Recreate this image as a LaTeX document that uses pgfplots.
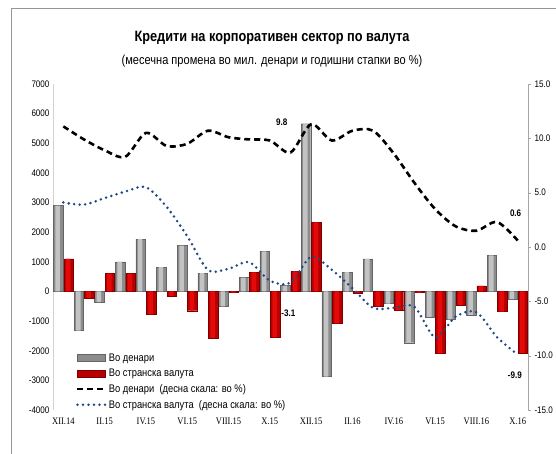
\documentclass[border=0pt]{standalone}
\usepackage{fontspec}
\setmainfont{Liberation Sans}[FakeStretch=0.85]
\newfontfamily\xfont{Liberation Serif}[FakeStretch=0.85]
\usepackage{pgfplots}
\pgfplotsset{compat=1.18}
\definecolor{lineblue}{RGB}{31,73,130}
\definecolor{gdark}{RGB}{140,140,140}
\definecolor{glight}{RGB}{195,195,195}
\definecolor{gedge}{RGB}{100,100,100}
\definecolor{rdark}{RGB}{185,0,0}
\definecolor{rlight}{RGB}{228,10,10}
\definecolor{redge}{RGB}{125,0,0}
\definecolor{framegray}{RGB}{150,150,150}
\pgfplotsset{
  barlegend/.style={legend image code/.code={\draw[##1] (0pt,-3.5pt) rectangle (28pt,3.5pt);}},
  linelegend/.style={legend image code/.code={\draw[##1] (0pt,0pt) -- (28pt,0pt);}},
}
\begin{document}
\begin{tikzpicture}[x=1pt,y=1pt]
\useasboundingbox (0pt,0pt) rectangle (556pt,453pt);
\draw[framegray, line width=0.9pt] (11pt,-2pt) -- (11pt,445pt) -- (560pt,445pt);
\node[font=\bfseries\fontsize{15}{17}\selectfont] at (272pt,415pt) {Кредити на корпоративен сектор по валута};
\node[font=\fontsize{13}{15}\selectfont] at (272pt,392pt) {(месечна промена во мил. денари и годишни стапки во \%)};

\begin{axis}[at={(53pt,43pt)}, anchor=south west, width=475pt, height=326pt, scale only axis,
  xmin=-0.5, xmax=22.5, ymin=-4000, ymax=7000,
  ytick={-4000,-3000,...,7000},
  axis y line*=left, axis x line*=bottom,
  x axis line style={draw=none}, y axis line style={draw=gray!35, line width=0.8pt},
  major tick length=0pt,
  xtick={0,2,...,22},
  xticklabels={XII.14,II.15,IV.15,VI.15,VIII.15,X.15,XII.15,II.16,IV.16,VI.15,VIII.16,X.16},
  xticklabel style={font=\xfont\fontsize{10}{12}\selectfont, yshift=-4pt},
  yticklabel style={font=\fontsize{9.5}{11}\selectfont},
  /pgf/number format/assume math mode=true, /pgf/number format/1000 sep={},
  clip=false,
  legend cell align=left,
  legend style={at={(0.046,0.183)}, anchor=north west, draw=none, fill=none,
    font=\fontsize{11}{13}\selectfont, row sep=2.3pt, inner sep=1pt},
]
\addplot[ybar, bar width=9.5pt, bar shift=-5.2pt, draw=gedge, fill=gdark, barlegend] coordinates {
(0,2900) (1,-1320) (2,-360) (3,1000) (4,1770) (5,820) (6,1550) (7,620) (8,-500) (9,470) (10,1350) (11,200)
(12,5660) (13,-2870) (14,650) (15,1100) (16,-410) (17,-1730) (18,-860) (19,-940) (20,-790) (21,1220) (22,-260)};
\addlegendentry{Во денари}
\addplot[ybar, bar width=9.5pt, bar shift=5.2pt, draw=redge, fill=rdark, barlegend] coordinates {
(0,1100) (1,-220) (2,600) (3,600) (4,-770) (5,-150) (6,-650) (7,-1570) (8,-40) (9,640) (10,-1550) (11,680)
(12,2330) (13,-1080) (14,-60) (15,-500) (16,-630) (17,-40) (18,-2090) (19,-450) (20,190) (21,-680) (22,-2070)};
\addlegendentry{Во странска валута}
\addlegendimage{black, line width=2.6pt, dash pattern=on 6pt off 4pt, linelegend}
\addlegendentry{Во денари\ \ (десна скала: во \%)}
\addlegendimage{lineblue, line width=2.8pt, dash pattern=on 0pt off 5.5pt, line cap=round, linelegend}
\addlegendentry{Во странска валута\ \ (десна скала: во \%)}
% highlight overlays
\addplot[ybar, bar width=4.5pt, bar shift=-5.7pt, draw=none, fill=glight, forget plot] coordinates {
(0,2900) (1,-1320) (2,-360) (3,1000) (4,1770) (5,820) (6,1550) (7,620) (8,-500) (9,470) (10,1350) (11,200)
(12,5660) (13,-2870) (14,650) (15,1100) (16,-410) (17,-1730) (18,-860) (19,-940) (20,-790) (21,1220) (22,-260)};
\addplot[ybar, bar width=4.5pt, bar shift=4.7pt, draw=none, fill=rlight, forget plot] coordinates {
(0,1100) (1,-220) (2,600) (3,600) (4,-770) (5,-150) (6,-650) (7,-1570) (8,-40) (9,640) (10,-1550) (11,680)
(12,2330) (13,-1080) (14,-60) (15,-500) (16,-630) (17,-40) (18,-2090) (19,-450) (20,190) (21,-680) (22,-2070)};
\end{axis}

\begin{axis}[at={(53pt,43pt)}, anchor=south west, width=475pt, height=326pt, scale only axis,
  xmin=-0.5, xmax=22.5, ymin=-15, ymax=15,
  ytick={-15,-10,...,15},
  axis y line*=right, axis x line=none,
  y axis line style={draw=gray!70, line width=0.8pt},
  ytick style={draw=gray!70},
  tick align=outside, major tick length=3pt,
  yticklabel style={/pgf/number format/fixed, /pgf/number format/fixed zerofill, /pgf/number format/precision=1, font=\fontsize{9.5}{11}\selectfont},
  /pgf/number format/assume math mode=true,
  clip=false,
]
\addplot[black, line width=2.6pt, dash pattern=on 6pt off 4pt, smooth, tension=0.5] coordinates {
(0,11.1) (1,9.9) (2,8.9) (3,8.3) (4,10.5) (5,9.3) (6,9.5) (7,10.7) (8,10.1) (9,9.9) (10,9.8) (11,8.7)
(12,11.3) (13,9.8) (14,10.7) (15,10.7) (16,8.6) (17,5.9) (18,3.5) (19,1.9) (20,1.5) (21,2.3) (22,0.6)};
\addplot[lineblue, line width=2.8pt, dash pattern=on 0pt off 5.5pt, line cap=round, smooth, tension=0.5] coordinates {
(0,4.1) (1,3.9) (2,4.5) (3,5.1) (4,5.5) (5,3.7) (6,1.0) (7,-2.1) (8,-2.0) (9,-1.4) (10,-3.1) (11,-3.3)
(12,-0.9) (13,-2.1) (14,-3.8) (15,-5.6) (16,-5.6) (17,-5.5) (18,-8.3) (19,-6.4) (20,-6.0) (21,-8.3) (22,-9.9)};
\node[font=\bfseries\fontsize{9.5}{11}\selectfont] at (axis cs:10.58,11.5) {9.8};
\node[font=\bfseries\fontsize{9.5}{11}\selectfont] at (axis cs:10.9,-6.1) {-3.1};
\node[font=\bfseries\fontsize{9.5}{11}\selectfont] at (axis cs:21.9,3.1) {0.6};
\node[font=\bfseries\fontsize{9.5}{11}\selectfont] at (axis cs:21.86,-11.8) {-9.9};
\end{axis}
\end{tikzpicture}
\end{document}
